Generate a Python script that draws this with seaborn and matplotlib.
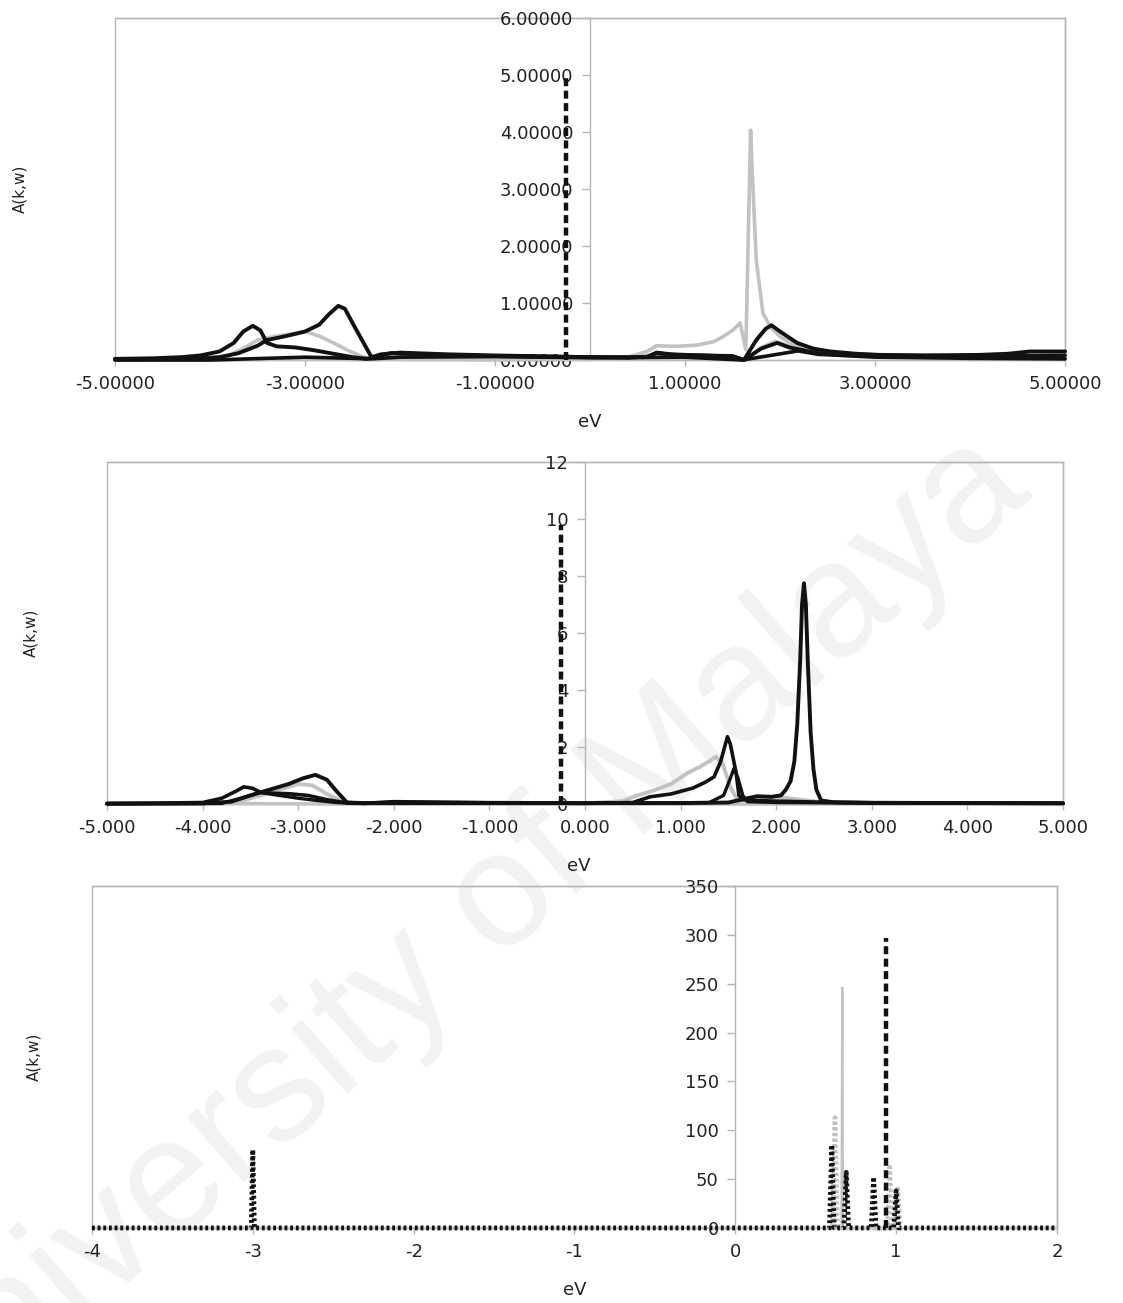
import numpy as np
import pandas as pd
import matplotlib
matplotlib.use("Agg")
import matplotlib.pyplot as plt
from matplotlib.patches import Rectangle
from matplotlib.ticker import FormatStrFormatter, FixedLocator
import seaborn as sns

# ---------------- data ----------------
# Panel 1
p1_xticks = [-5, -3, -1, 1, 3, 5]
p1_yticks = [0, 1, 2, 3, 4, 5, 6]
p1_k1_x = [-5.0, -4.6, -4.3, -4.1, -3.9, -3.75, -3.65, -3.55, -3.47, -3.4, -3.3, -3.1, -2.9, -2.7, -2.5, -2.35,
           -2.25, -2.1, -1.8, -1.4, -1.0, -0.5, 0.0, 0.4, 0.6, 0.7, 0.9, 1.2, 1.5, 1.62, 1.75, 1.85, 1.91, 2.0,
           2.18, 2.35, 2.53, 2.8, 3.05, 3.5, 4.1, 4.4, 4.63, 5.0]
p1_k1_y = [0.02, 0.03, 0.05, 0.08, 0.15, 0.3, 0.5, 0.6, 0.52, 0.3, 0.24, 0.22, 0.17, 0.11, 0.05, 0.02,
           0.06, 0.12, 0.1, 0.08, 0.07, 0.06, 0.05, 0.04, 0.06, 0.12, 0.09, 0.08, 0.07, 0.0, 0.35, 0.55, 0.61, 0.5,
           0.3, 0.2, 0.15, 0.11, 0.09, 0.08, 0.09, 0.11, 0.15, 0.15]
p1_k2_x = [-5.0, -4.2, -3.9, -3.7, -3.5, -3.4, -3.2, -3.0, -2.85, -2.75, -2.65, -2.58, -2.5, -2.4, -2.3, -2.2,
           -2.0, -1.5, -1.0, 0.0, 0.6, 0.7, 0.85, 1.5, 1.62, 1.8, 1.97, 2.1, 2.4, 3.0, 4.0, 5.0]
p1_k2_y = [0.01, 0.02, 0.05, 0.12, 0.25, 0.35, 0.42, 0.5, 0.62, 0.8, 0.95, 0.9, 0.65, 0.35, 0.05, 0.1,
           0.13, 0.1, 0.08, 0.05, 0.05, 0.13, 0.1, 0.06, 0.0, 0.2, 0.3, 0.22, 0.12, 0.08, 0.07, 0.08]
p1_k3_x = [-5.0, -4.0, -3.6, -3.0, -2.5, -2.3, -2.0, -1.0, 0.0, 1.0, 1.6, 1.9, 2.19, 2.4, 3.0, 4.0, 5.0]
p1_k3_y = [0.0, 0.0, 0.02, 0.05, 0.03, 0.02, 0.05, 0.06, 0.04, 0.05, 0.0, 0.08, 0.16, 0.1, 0.05, 0.03, 0.02]
p1_g1_x = [-5.0, -4.0, -3.8, -3.65, -3.5, -3.3, -3.1, -3.0, -2.85, -2.7, -2.55, -2.4, -2.3, -2.0, -1.0, 0.0,
           0.4, 0.6, 0.7, 0.9, 1.12, 1.3, 1.4, 1.5, 1.58, 1.64, 1.67, 1.69, 1.71, 1.75, 1.82, 1.9, 2.0, 2.15,
           2.35, 2.7, 3.05, 4.0, 5.0]
p1_g1_y = [0.02, 0.03, 0.08, 0.2, 0.35, 0.42, 0.47, 0.5, 0.42, 0.3, 0.17, 0.06, 0.02, 0.03, 0.03, 0.03,
           0.05, 0.15, 0.25, 0.24, 0.26, 0.32, 0.41, 0.52, 0.65, 0.18, 2.5, 4.03, 3.2, 1.75, 0.82, 0.58, 0.41, 0.26,
           0.17, 0.11, 0.09, 0.07, 0.06]
p1_g2_x = [-5.0, -3.8, -3.5, -2.0, -1.0, 1.6, 1.66, 1.8, 1.95, 2.1, 2.5, 3.0, 5.0]
p1_g2_y = [0.0, 0.0, 0.01, 0.01, 0.0, 0.03, 0.0, 0.22, 0.33, 0.25, 0.1, 0.06, 0.05]
p1_fermi_x = [-0.25, -0.25]
p1_fermi_y = [0.0, 5.0]

# Panel 2
p2_xticks = [-5, -4, -3, -2, -1, 0, 1, 2, 3, 4, 5]
p2_yticks = [0, 2, 4, 6, 8, 10, 12]
p2_k1_x = [-5.0, -4.5, -4.0, -3.8, -3.65, -3.57, -3.48, -3.4, -3.3, -3.1, -2.9, -2.7, -2.5, -2.3, -2.0, -1.5,
           -1.0, 0.0, 0.5, 0.68, 0.9, 1.13, 1.25, 1.35, 1.42, 1.46, 1.49, 1.52, 1.55, 1.58, 1.61, 1.65, 1.75,
           2.0, 2.5, 3.0, 4.0, 5.0]
p2_k1_y = [0.02, 0.03, 0.05, 0.2, 0.45, 0.6, 0.55, 0.42, 0.38, 0.36, 0.3, 0.15, 0.04, 0.02, 0.08, 0.06,
           0.04, 0.02, 0.05, 0.25, 0.35, 0.56, 0.75, 0.95, 1.5, 2.0, 2.36, 2.1, 1.6, 1.1, 0.3, 0.15, 0.12,
           0.1, 0.06, 0.04, 0.04, 0.03]
p2_k2_x = [-5.0, -4.0, -3.7, -3.5, -3.3, -3.1, -2.95, -2.82, -2.7, -2.6, -2.49, -2.3, -2.0, -1.0, 0.0, 0.5,
           1.0, 1.5, 1.7, 1.8, 1.95, 2.05, 2.1, 2.15, 2.19, 2.22, 2.25, 2.27, 2.29, 2.31, 2.33, 2.36, 2.39,
           2.42, 2.47, 2.6, 3.0, 4.0, 5.0]
p2_k2_y = [0.01, 0.02, 0.08, 0.3, 0.5, 0.7, 0.9, 1.02, 0.85, 0.45, 0.05, 0.03, 0.05, 0.04, 0.03, 0.03,
           0.03, 0.05, 0.2, 0.27, 0.25, 0.3, 0.5, 0.8, 1.5, 2.8, 5.0, 7.0, 7.74, 7.0, 5.0, 2.5, 1.2,
           0.5, 0.12, 0.06, 0.04, 0.03, 0.02]
p2_k3_x = [-5.0, -3.8, -3.6, -3.4, -3.2, -3.0, -2.8, -2.6, -2.4, 0.0, 1.3, 1.45, 1.52, 1.56, 1.6, 1.65, 1.7,
           2.0, 3.0, 5.0]
p2_k3_y = [0.0, 0.02, 0.2, 0.4, 0.3, 0.2, 0.12, 0.05, 0.02, 0.02, 0.05, 0.3, 0.9, 1.26, 0.9, 0.3, 0.08,
           0.05, 0.03, 0.02]
p2_g1_x = [-5.0, -3.8, -3.6, -3.4, -3.2, -3.0, -2.85, -2.7, -2.55, -2.4, -2.0, 0.0, 0.4, 0.5, 0.7, 0.9, 1.07,
           1.2, 1.3, 1.37, 1.44, 1.52, 1.6, 1.7, 2.0, 2.5, 5.0]
p2_g1_y = [0.0, 0.01, 0.1, 0.3, 0.5, 0.7, 0.65, 0.35, 0.1, 0.02, 0.02, 0.02, 0.1, 0.25, 0.45, 0.7, 1.08,
           1.3, 1.5, 1.66, 1.4, 0.6, 0.1, 0.2, 0.25, 0.05, 0.02]
p2_g2_x = [-5.0, -4.0, -3.6, -2.5, 5.0]
p2_g2_y = [0.0, 0.0, 0.02, 0.0, 0.0]
p2_fermi_x = [-0.25, -0.25]
p2_fermi_y = [0.0, 9.8]

# Panel 3
p3_xticks = [-4, -3, -2, -1, 0, 1, 2]
p3_yticks = [0, 50, 100, 150, 200, 250, 300, 350]
p3_kdot_x = [-4.0, -3.01, -3.0, -2.99, 0.585, 0.6, 0.615, 0.675, 0.69, 0.705, 0.845, 0.86, 0.875,
             0.985, 1.0, 1.015, 2.0]
p3_kdot_y = [0, 0, 80, 0, 0, 85, 0, 0, 57, 0, 0, 52, 0, 0, 38, 0, 0]
p3_gdot_x = [-4.0, 0.605, 0.62, 0.635, 0.945, 0.96, 0.975, 0.995, 1.01, 1.025, 2.0]
p3_gdot_y = [0, 0, 113, 0, 0, 62, 0, 0, 40, 0, 0]
p3_gthin_x = [-4.0, 0.66, 0.665, 0.67, 2.0]
p3_gthin_y = [0, 0, 246, 0, 0]
p3_fermi_x = [0.94, 0.94]
p3_fermi_y = [0.0, 297.0]

# ---------------- style ----------------
sns.set_theme(style="white")
plt.rcParams['font.family'] = ['DejaVu Sans']
plt.rcParams['axes.unicode_minus'] = False

BLACK = "#111111"
GRAY = "#c2c2c2"
FRAME = "#b5b5b5"
TXT = "#222222"

fig = plt.figure(figsize=(11.23, 13.03), dpi=100)

# watermark
fig.text(0.40, 0.272, "University of Malaya", rotation=41, fontsize=118,
         family="Liberation Sans", color="#f2f2f2", ha="center", va="center",
         zorder=-5, rotation_mode="anchor")


def line(ax, x, y, color, lw, ls="-", z=2):
    df = pd.DataFrame({"eV": x, "A": y})
    sns.lineplot(data=df, x="eV", y="A", ax=ax, sort=False, estimator=None,
                 color=color, lw=lw, linestyle=ls, zorder=z, clip_on=False,
                 solid_joinstyle="round", solid_capstyle="round")


def style_axes(ax, xlim, ylim, xticks, yticks, xfmt, yfmt, ylab_x, xlab_x):
    ax.patch.set_alpha(0)
    ax.set_xlim(*xlim)
    ax.set_ylim(*ylim)
    ax.xaxis.set_major_locator(FixedLocator(xticks))
    ax.yaxis.set_major_locator(FixedLocator(yticks))
    ax.xaxis.set_major_formatter(FormatStrFormatter(xfmt))
    ax.yaxis.set_major_formatter(FormatStrFormatter(yfmt))
    for s in ["top", "right", "bottom", "left"]:
        ax.spines[s].set_color(FRAME)
        ax.spines[s].set_linewidth(1.0)
        ax.spines[s].set_visible(True)
        ax.spines[s].set_zorder(0.5)
    ax.spines["left"].set_position(("data", 0))
    ax.add_patch(Rectangle((0, 0), 1, 1, transform=ax.transAxes, fill=False,
                           ec=FRAME, lw=1.0, zorder=0.4, clip_on=False))
    ax.tick_params(axis="x", which="major", direction="out", length=4, width=1,
                   color=FRAME, pad=7, labelsize=13, labelcolor=TXT, bottom=True)
    ax.tick_params(axis="y", which="major", direction="out", length=6, width=1,
                   color=FRAME, pad=6, labelsize=13, labelcolor=TXT, left=True)
    ax.set_ylabel("A(k,w)", fontsize=11, color=TXT)
    ax.set_xlabel("eV", fontsize=13, color=TXT)
    ax.yaxis.set_label_coords(ylab_x, 0.5)
    ax.xaxis.set_label_coords(xlab_x, -0.155)
    ax.grid(False)


# ---------------- panel 1 ----------------
ax1 = fig.add_axes([0.1024, 0.7237, 0.8460, 0.2625])
line(ax1, p1_g2_x, p1_g2_y, GRAY, 2.4)
line(ax1, p1_g1_x, p1_g1_y, GRAY, 2.6)
line(ax1, p1_k3_x, p1_k3_y, BLACK, 2.6)
line(ax1, p1_k1_x, p1_k1_y, BLACK, 2.8)
line(ax1, p1_k2_x, p1_k2_y, BLACK, 2.8)
line(ax1, p1_fermi_x, p1_fermi_y, BLACK, 3.2, ls=(0, (1.8, 1.0)), z=4)
style_axes(ax1, (-5, 5), (0, 6), p1_xticks, p1_yticks, "%.5f", "%.5f", -0.092, 0.5)

# ---------------- panel 2 ----------------
ax2 = fig.add_axes([0.0953, 0.3830, 0.8513, 0.2625])
line(ax2, p2_g2_x, p2_g2_y, GRAY, 2.4)
line(ax2, p2_g1_x, p2_g1_y, GRAY, 2.8)
line(ax2, p2_k3_x, p2_k3_y, BLACK, 2.4)
line(ax2, p2_k1_x, p2_k1_y, BLACK, 2.6)
line(ax2, p2_k2_x, p2_k2_y, BLACK, 2.8)
line(ax2, p2_fermi_x, p2_fermi_y, BLACK, 3.2, ls=(0, (1.8, 1.0)), z=4)
style_axes(ax2, (-5, 5), (0, 12), p2_xticks, p2_yticks, "%.3f", "%d", -0.072, 0.493)

# ---------------- panel 3 ----------------
ax3 = fig.add_axes([0.0819, 0.0576, 0.8593, 0.2624])
line(ax3, p3_gthin_x, p3_gthin_y, GRAY, 1.6)
line(ax3, p3_gdot_x, p3_gdot_y, GRAY, 3.4, ls=(0, (0.6, 0.6)))
line(ax3, p3_kdot_x, p3_kdot_y, BLACK, 3.4, ls=(0, (0.6, 0.6)))
line(ax3, p3_fermi_x, p3_fermi_y, BLACK, 3.2, ls=(0, (1.8, 1.0)), z=3)
style_axes(ax3, (-4, 2), (0, 350), p3_xticks, p3_yticks, "%d", "%d", -0.052, 0.5)

fig.savefig("out.png", dpi=100)
